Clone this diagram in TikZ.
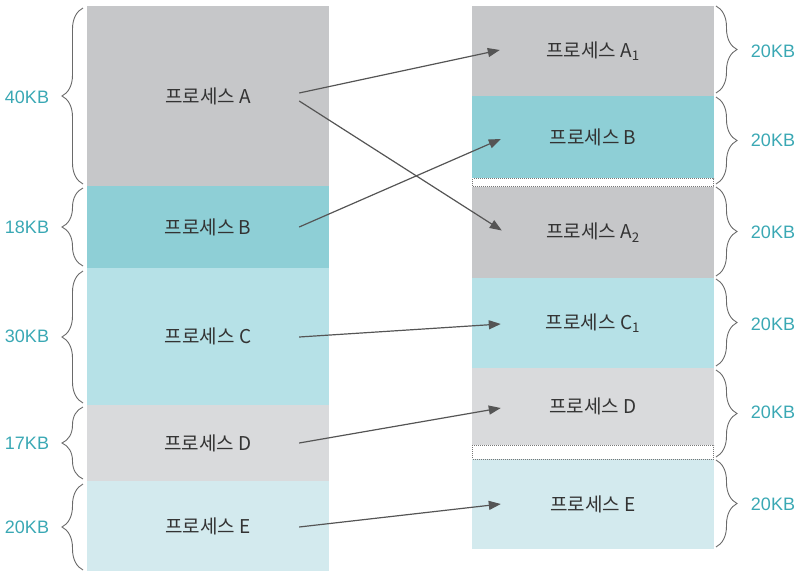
\documentclass[tikz,border=0pt]{standalone}
\usepackage{fontspec}
\setmainfont{Liberation Sans}
\newfontfamily\kr{Noto Sans CJK KR}
\usetikzlibrary{arrows.meta,decorations.pathreplacing,calc}
\definecolor{cA}{HTML}{C6C7C9}
\definecolor{cB}{HTML}{8ECFD6}
\definecolor{cC}{HTML}{B6E1E7}
\definecolor{cD}{HTML}{D9DADC}
\definecolor{cE}{HTML}{D3EAEE}
\definecolor{lbl}{HTML}{3AA8B4}
\definecolor{txt}{HTML}{333333}
\definecolor{arr}{HTML}{555555}
\definecolor{brc}{HTML}{6A6A6A}
\definecolor{dots}{HTML}{777777}
\begin{document}
\begin{tikzpicture}[x=1pt,y=-1pt,
  blk/.style={inner sep=0pt, minimum width=242pt, text=txt, font=\kr\fontsize{19}{22}\selectfont},
  kb/.style={text=lbl, font=\fontsize{18}{20}\selectfont, inner sep=0pt},
  lbrace/.style={draw=brc, line width=0.9pt, decorate, decoration={brace, amplitude=21pt}},
  rbrace/.style={draw=brc, line width=0.9pt, decorate, decoration={brace, amplitude=21pt}},
  gapbox/.style={draw=dots, densely dotted, line width=1pt, fill=white},
  conn/.style={draw=arr, line width=1.2pt, -{Triangle[length=12pt,width=9pt]}}
]
\useasboundingbox (0,0) rectangle (804,581);
% left column
\node[blk, fill=cA, minimum height=180pt] (LA) at (208,96) {프로세스 A};
\node[blk, fill=cB, minimum height=82pt] (LB) at (208,227) {프로세스 B};
\node[blk, fill=cC, minimum height=137pt] (LC) at (208,336.5) {프로세스 C};
\node[blk, fill=cD, minimum height=76pt] (LD) at (208,443) {프로세스 D};
\node[blk, fill=cE, minimum height=90pt] (LE) at (208,526) {프로세스 E};
% right column
\node[blk, fill=cA, minimum height=90pt] (RA1) at (593,51) {프로세스 A\textsubscript{1}};
\node[blk, fill=cB, minimum height=82pt] (RB) at (593,137) {프로세스 B};
\node[blk, fill=cA, minimum height=91pt] (RA2) at (593,232.5) {프로세스 A\textsubscript{2}};
\node[blk, fill=cC, minimum height=90pt] (RC1) at (593,323) {프로세스 C\textsubscript{1}};
\node[blk, fill=cD, minimum height=77pt] (RD) at (593,406.5) {프로세스 D};
\node[blk, fill=cE, minimum height=90pt] (RE) at (593,504) {프로세스 E};
% free gaps
\draw[gapbox] (472.5,178.5) rectangle (713.5,186.5);
\draw[gapbox] (472.5,445) rectangle (713.5,459);
% left braces
\draw[lbrace] (83,184) -- (83,8);
\draw[lbrace] (83,266) -- (83,188);
\draw[lbrace] (83,403) -- (83,271);
\draw[lbrace] (83,479) -- (83,407);
\draw[lbrace] (83,570) -- (83,484);
\node[kb] (k1) at (27,97) {40KB};
\node[kb] (k2) at (27,227) {18KB};
\node[kb] (k3) at (27,336) {30KB};
\node[kb] (k4) at (27,443) {17KB};
\node[kb] (k5) at (27,527) {20KB};
% right braces
\draw[rbrace] (716,6) -- (716,93);
\draw[rbrace] (716,97) -- (716,184);
\draw[rbrace] (716,187) -- (716,276);
\draw[rbrace] (716,279) -- (716,366);
\draw[rbrace] (716,370) -- (716,457);
\draw[rbrace] (716,460) -- (716,547);
\node[kb] (r1) at (773,51) {20KB};
\node[kb] (r2) at (773,140) {20KB};
\node[kb] (r3) at (773,232) {20KB};
\node[kb] (r4) at (773,324) {20KB};
\node[kb] (r5) at (773,412) {20KB};
\node[kb] (r6) at (773,504) {20KB};
% connectors
\draw[conn] ($(LA.east)+(-30,-3)$) -- ($(RA1.west)+(28,-1)$);
\draw[conn] ($(LA.east)+(-30,5)$) -- ($(RA2.west)+(30,-2)$);
\draw[conn] ($(LB.east)+(-30,0)$) -- ($(RB.west)+(29,2)$);
\draw[conn] ($(LC.east)+(-30,0.5)$) -- ($(RC1.west)+(29,1)$);
\draw[conn] ($(LD.east)+(-30,0)$) -- ($(RD.west)+(29,1.5)$);
\draw[conn] ($(LE.east)+(-30,1)$) -- ($(RE.west)+(29,0)$);
\end{tikzpicture}
\end{document}
